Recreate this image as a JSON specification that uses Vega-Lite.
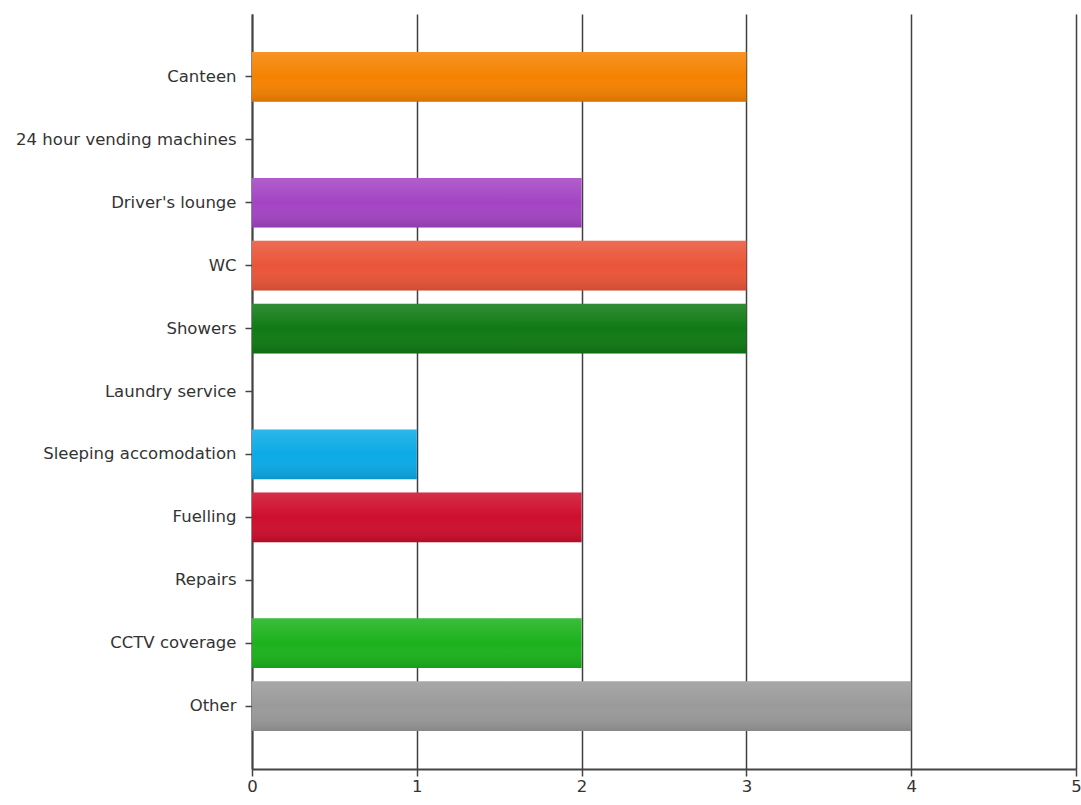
{
  "$schema": "https://vega.github.io/schema/vega-lite/v6.json",
  "width": 824,
  "height": 755,
  "autosize": "none",
  "padding": {"left": 252, "top": 14, "right": 5, "bottom": 36},
  "background": "white",
  "data": {
    "values": [
      {"facility": "Canteen", "count": 3},
      {"facility": "24 hour vending machines", "count": 0},
      {"facility": "Driver's lounge", "count": 2},
      {"facility": "WC", "count": 3},
      {"facility": "Showers", "count": 3},
      {"facility": "Laundry service", "count": 0},
      {"facility": "Sleeping accomodation", "count": 1},
      {"facility": "Fuelling", "count": 2},
      {"facility": "Repairs", "count": 0},
      {"facility": "CCTV coverage", "count": 2},
      {"facility": "Other", "count": 4}
    ]
  },
  "config": {
    "view": {"stroke": null},
    "axis": {
      "labelFont": "DejaVu Sans",
      "labelFontSize": 16.5,
      "labelColor": "#333333",
      "labelLimit": 400,
      "domainColor": "#444444",
      "domainWidth": 2,
      "tickColor": "#444444",
      "tickWidth": 1.5,
      "tickSize": 7
    }
  },
  "encoding": {
    "y": {
      "field": "facility",
      "type": "nominal",
      "sort": null,
      "scale": {"paddingInner": 0.21, "paddingOuter": 0.605},
      "axis": {"title": null, "labelPadding": 9, "grid": false}
    },
    "x": {
      "field": "count",
      "type": "quantitative",
      "scale": {"domain": [0, 5], "nice": false},
      "axis": {
        "title": null,
        "values": [0, 1, 2, 3, 4, 5],
        "format": "d",
        "grid": true,
        "gridColor": "#404040",
        "gridWidth": 1.5,
        "gridOpacity": 1,
        "labelPadding": 2,
        "labelFlush": false
      }
    }
  },
  "layer": [
    {
      "mark": {"type": "bar"},
      "encoding": {
        "color": {
          "field": "facility",
          "type": "nominal",
          "legend": null,
          "scale": {
            "domain": ["Canteen", "24 hour vending machines", "Driver's lounge", "WC", "Showers", "Laundry service", "Sleeping accomodation", "Fuelling", "Repairs", "CCTV coverage", "Other"],
            "range": ["#F58200", "#FFFFFF", "#A444C4", "#EA5538", "#107A14", "#FFFFFF", "#0BAAE6", "#CE0E2E", "#FFFFFF", "#1CB21C", "#9A9A9A"]
          }
        }
      }
    },
    {
      "mark": {
        "type": "bar",
        "fill": {
          "gradient": "linear",
          "x1": 0, "y1": 0, "x2": 0, "y2": 1,
          "stops": [
            {"offset": 0, "color": "rgba(255,255,255,0.14)"},
            {"offset": 0.5, "color": "rgba(255,255,255,0)"},
            {"offset": 1, "color": "rgba(0,0,0,0.12)"}
          ]
        }
      }
    }
  ]
}
